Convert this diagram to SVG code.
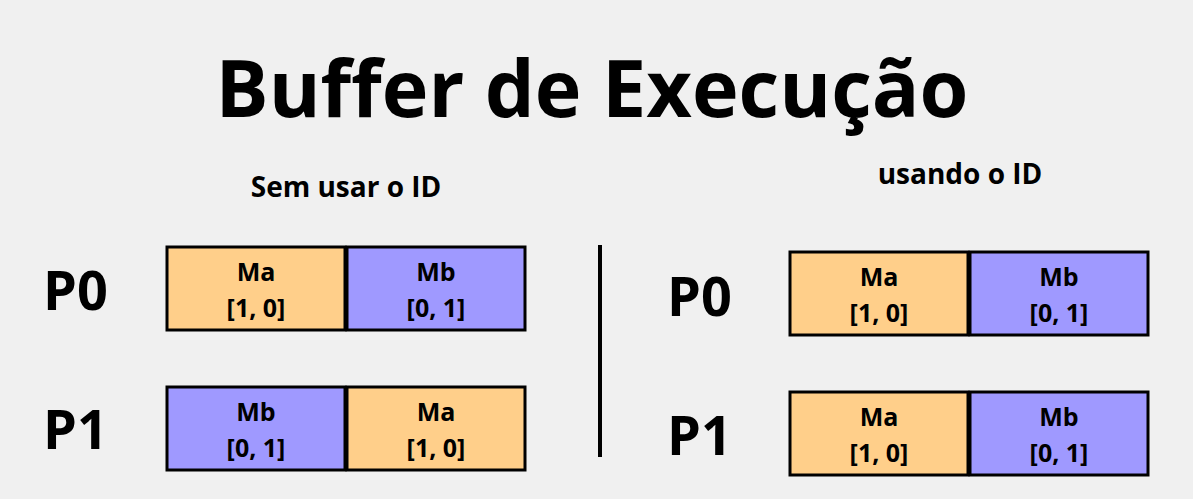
<svg xmlns="http://www.w3.org/2000/svg" width="1193" height="499" viewBox="0 0 1193 499">
<style>
text{font-family:"Open Sans","DejaVu Sans",sans-serif;font-weight:bold;fill:#000}
.box{stroke:#000;stroke-width:3}
.a{fill:#FFCF8A}
.b{fill:#9F99FF}
.t{font-size:25px;text-anchor:middle}
.p{font-size:54px}
.h{font-size:28px;text-anchor:middle}
</style>
<rect width="1193" height="499" fill="#F0F0F0"/>
<text x="592" y="117" font-size="79" text-anchor="middle">Buffer de Execução</text>
<text class="h" x="346" y="197">Sem usar o ID</text>
<text class="h" x="960" y="184">usando o ID</text>
<line x1="600" y1="245" x2="600" y2="457" stroke="#000" stroke-width="4"/>
<g id="left-p0">
<text class="p" x="43" y="310">P0</text>
<rect class="box a" x="167" y="247" width="178" height="83"/>
<rect class="box b" x="347" y="247" width="178" height="83"/>
<text class="t" x="256" y="281">Ma</text><text class="t" x="256" y="317">[1, 0]</text>
<text class="t" x="436" y="281">Mb</text><text class="t" x="436" y="317">[0, 1]</text>
</g>
<g id="left-p1">
<text class="p" x="43" y="449">P1</text>
<rect class="box b" x="167" y="387" width="178" height="83"/>
<rect class="box a" x="347" y="387" width="178" height="83"/>
<text class="t" x="256" y="421">Mb</text><text class="t" x="256" y="457">[0, 1]</text>
<text class="t" x="436" y="421">Ma</text><text class="t" x="436" y="457">[1, 0]</text>
</g>
<g id="right-p0">
<text class="p" x="667" y="316">P0</text>
<rect class="box a" x="790" y="252" width="178" height="83"/>
<rect class="box b" x="970" y="252" width="178" height="83"/>
<text class="t" x="879" y="286">Ma</text><text class="t" x="879" y="322">[1, 0]</text>
<text class="t" x="1059" y="286">Mb</text><text class="t" x="1059" y="322">[0, 1]</text>
</g>
<g id="right-p1">
<text class="p" x="667" y="455">P1</text>
<rect class="box a" x="790" y="392" width="178" height="83"/>
<rect class="box b" x="970" y="392" width="178" height="83"/>
<text class="t" x="879" y="426">Ma</text><text class="t" x="879" y="462">[1, 0]</text>
<text class="t" x="1059" y="426">Mb</text><text class="t" x="1059" y="462">[0, 1]</text>
</g>
<g id="connectors"></g>
</svg>
